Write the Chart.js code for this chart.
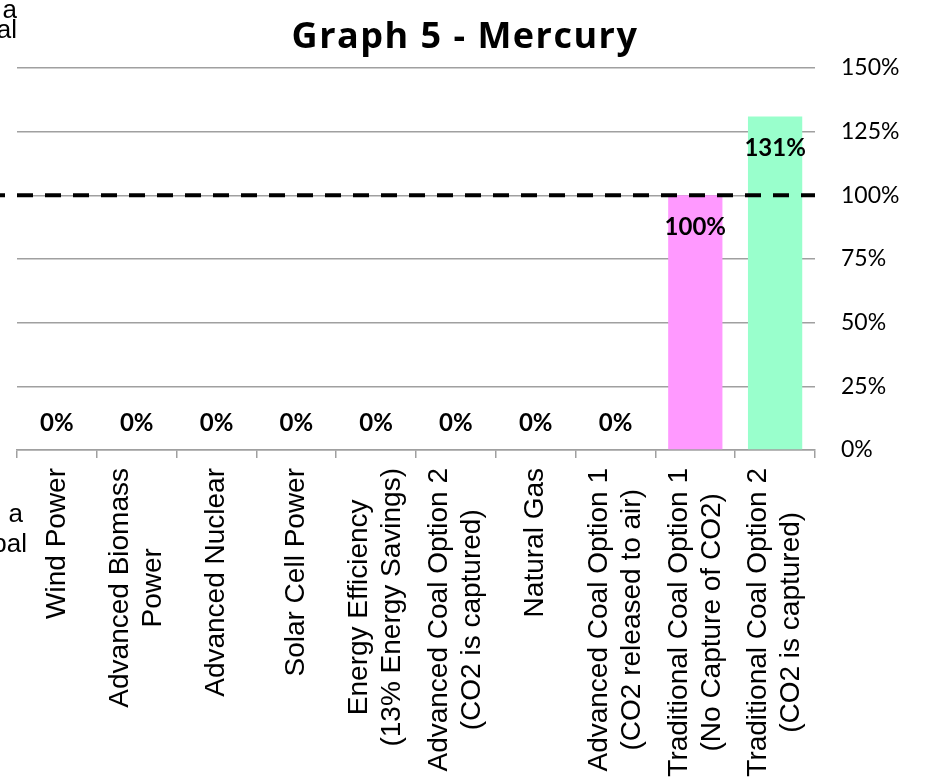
<!DOCTYPE html>
<html>
<head>
<meta charset="utf-8">
<title>Graph 5 - Mercury</title>
<script src="https://cdn.jsdelivr.net/npm/chart.js@4.4.1/dist/chart.umd.min.js"></script>
<style>
  html, body { margin:0; padding:0; background:#fff; }
  #wrap { position:relative; width:947px; height:778px; }
</style>
</head>
<body>
<div id="wrap"><canvas id="chart" width="947" height="778"></canvas></div>
<script>
// ── DATA ─────────────────────────────────────────────
const categories = [
  ['Wind Power'],
  ['Advanced Biomass', 'Power'],
  ['Advanced Nuclear'],
  ['Solar Cell Power'],
  ['Energy Efficiency', '(13% Energy Savings)'],
  ['Advanced Coal Option 2', '(CO2 is captured)'],
  ['Natural Gas'],
  ['Advanced Coal Option 1', '(CO2 released to air)'],
  ['Traditional Coal Option 1', '(No Capture of CO2)'],
  ['Traditional Coal Option 2', '(CO2 is captured)']
];
const mercuryPct = [0, 0, 0, 0, 0, 0, 0, 0, 100, 131];
const barColors  = ['#ff99ff','#ff99ff','#ff99ff','#ff99ff','#ff99ff','#ff99ff','#ff99ff','#ff99ff','#ff99ff','#99ffcc'];
const yMin = 0, yMax = 150, yStep = 25;
const referenceLevel = 100;
const titleText = 'Graph 5 - Mercury';
// cut-off text from neighbouring boxes on the left edge
const fragTop = ['a', 'al'];
const fragMid = ['a', 'bal'];

// ── PLUGINS ──────────────────────────────────────────
const refLine = {
  id: 'refLine',
  afterDatasetsDraw(chart) {
    const { ctx, chartArea } = chart;
    const y = chart.scales.y.getPixelForValue(referenceLevel);
    ctx.save();
    ctx.strokeStyle = '#000';
    ctx.lineWidth = 4;
    ctx.setLineDash([16, 12]);
    ctx.beginPath();
    ctx.moveTo(chartArea.left - 28, y);
    ctx.lineTo(chartArea.right, y);
    ctx.stroke();
    ctx.restore();
  }
};

const barLabels = {
  id: 'barLabels',
  afterDatasetsDraw(chart) {
    const { ctx } = chart;
    const meta = chart.getDatasetMeta(0);
    ctx.save();
    ctx.font = 'bold 24px Lato';
    ctx.fillStyle = '#000';
    ctx.textAlign = 'center';
    ctx.textBaseline = 'middle';
    meta.data.forEach((bar, i) => {
      const v = mercuryPct[i];
      const y = v > 0 ? bar.y + 32 : bar.y - 27;
      ctx.fillText(v + '%', bar.x, y);
    });
    ctx.restore();
  }
};

const catLabels = {
  id: 'catLabels',
  afterDraw(chart) {
    const { ctx } = chart;
    const x = chart.scales.x;
    const top = 468, lineH = 33;
    ctx.save();
    ctx.font = '28px "Liberation Sans", Arial, sans-serif';
    ctx.fillStyle = '#000';
    ctx.textAlign = 'center';
    ctx.textBaseline = 'middle';
    categories.forEach((lines, i) => {
      const cx = x.getPixelForValue(i);
      const w = Math.max(...lines.map(l => ctx.measureText(l).width));
      ctx.save();
      ctx.translate(cx, top);
      ctx.rotate(-Math.PI / 2);
      lines.forEach((l, j) => ctx.fillText(l, -w / 2, (j - (lines.length - 1) / 2) * lineH));
      ctx.restore();
    });

    // title
    ctx.font = 'bold 36px "Open Sans"';
    ctx.letterSpacing = '1.5px';
    ctx.textAlign = 'center';
    ctx.textBaseline = 'alphabetic';
    ctx.fillText(titleText, 465, 48);
    ctx.letterSpacing = '0px';

    // fragments
    ctx.font = '26px "Liberation Sans", Arial, sans-serif';
    ctx.textAlign = 'right';
    ctx.fillText(fragTop[0], 17, 18);
    ctx.fillText(fragTop[1], 17, 38);
    ctx.fillText(fragMid[0], 23, 522);
    ctx.fillText(fragMid[1], 27, 552);
    ctx.restore();
  }
};

// ── CHART ────────────────────────────────────────────
new Chart(document.getElementById('chart'), {
  type: 'bar',
  data: {
    labels: categories,
    datasets: [{ data: mercuryPct, backgroundColor: barColors, borderWidth: 0, barPercentage: 0.68, categoryPercentage: 1 }]
  },
  options: {
    responsive: false, animation: false,
    layout: { padding: { left: 17, top: 68, right: 0, bottom: 0 } },
    plugins: { legend: { display: false }, tooltip: { enabled: false }, title: { display: false } },
    scales: {
      x: {
        ticks: { display: false },
        grid: { offset: true, drawOnChartArea: false, drawTicks: true, tickLength: 8, color: '#a0a0a0', lineWidth: 1.5 },
        border: { color: '#a0a0a0', width: 1.5 },
        afterFit: s => { s.height = 328; }
      },
      y: {
        position: 'right', min: yMin, max: yMax,
        ticks: { stepSize: yStep, padding: 26, color: '#000', font: { family: 'Lato', size: 23 }, callback: v => v + '%' },
        grid: { drawTicks: false, color: '#a0a0a0', lineWidth: 1.5 },
        border: { display: false },
        afterFit: s => { s.width = 132; }
      }
    }
  },
  plugins: [refLine, barLabels, catLabels]
});
</script>
</body>
</html>
